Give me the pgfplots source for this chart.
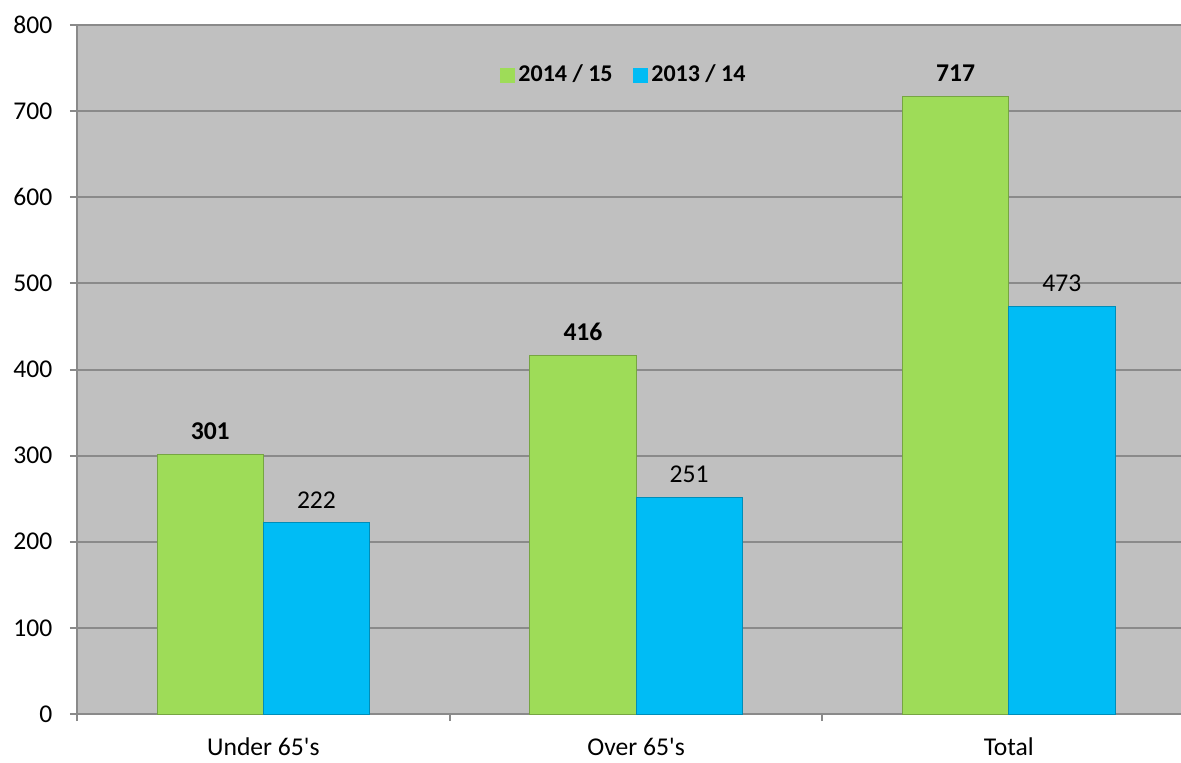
\documentclass[border=0pt]{standalone}
\usepackage{pgfplots}
\pgfplotsset{compat=1.18}
\usepackage{fontspec}
\setmainfont{Carlito}
\definecolor{bggray}{RGB}{192,192,192}
\definecolor{gridgray}{RGB}{138,138,138}
\definecolor{bargreen}{RGB}{158,220,88}
\definecolor{barblue}{RGB}{0,188,245}
\begin{document}
\begin{tikzpicture}
\fontsize{12.5}{15}\selectfont
\begin{axis}[
  scale only axis, width=552pt, height=344.5pt,
  xmin=-0.5, xmax=2.462, ymin=0, ymax=800,
  axis lines*=left,
  axis background/.style={fill=bggray},
  ytick={0,100,...,800},
  ymajorgrids, grid style={gridgray, line width=1pt},
  axis line style={gridgray, line width=1pt},
  tick style={gridgray, line width=1pt},
  tick align=outside, major tick length=3.5pt,
  xtick={-0.5,0.5,1.5}, xticklabels={},
  extra x ticks={0,1,2},
  extra x tick labels={Under 65\textquotesingle s, Over 65\textquotesingle s, Total},
  extra x tick style={major tick length=0pt, xticklabel style={yshift=-7.5pt}},
  ticklabel style={font=\fontsize{12.8}{15}\selectfont},
  yticklabel style={xshift=-4.5pt},
  /pgf/number format/assume math mode=true,
  ybar=0pt, bar width=0.285,
  nodes near coords,
  nodes near coords style={font=\fontsize{12.8}{15}\selectfont, yshift=3pt},
  legend style={at={(0.496,0.927)}, anchor=center, draw=none, fill=none,
    font=\bfseries\fontsize{12}{14}\selectfont,
    /tikz/every even column/.append style={column sep=8pt}},
  legend columns=2,
  legend cell align=left,
]
\addplot[fill=bargreen, draw=bargreen!75!black,
  every node near coord/.append style={font=\bfseries\fontsize{12.8}{15}\selectfont},
  legend image code/.code={\fill[bargreen] (0pt,-3.5pt) rectangle (7pt,3.5pt);}]
  coordinates {(0,301) (1,416) (2,717)};
\addplot[fill=barblue, draw=barblue!75!black,
  legend image code/.code={\fill[barblue] (0pt,-3.5pt) rectangle (7pt,3.5pt);}]
  coordinates {(0,222) (1,251) (2,473)};
\legend{2014 / 15, 2013 / 14}
\end{axis}
\pgfresetboundingbox
\path[use as bounding box] (-38.5pt,-24pt) rectangle (552pt,357pt);
\end{tikzpicture}
\end{document}
